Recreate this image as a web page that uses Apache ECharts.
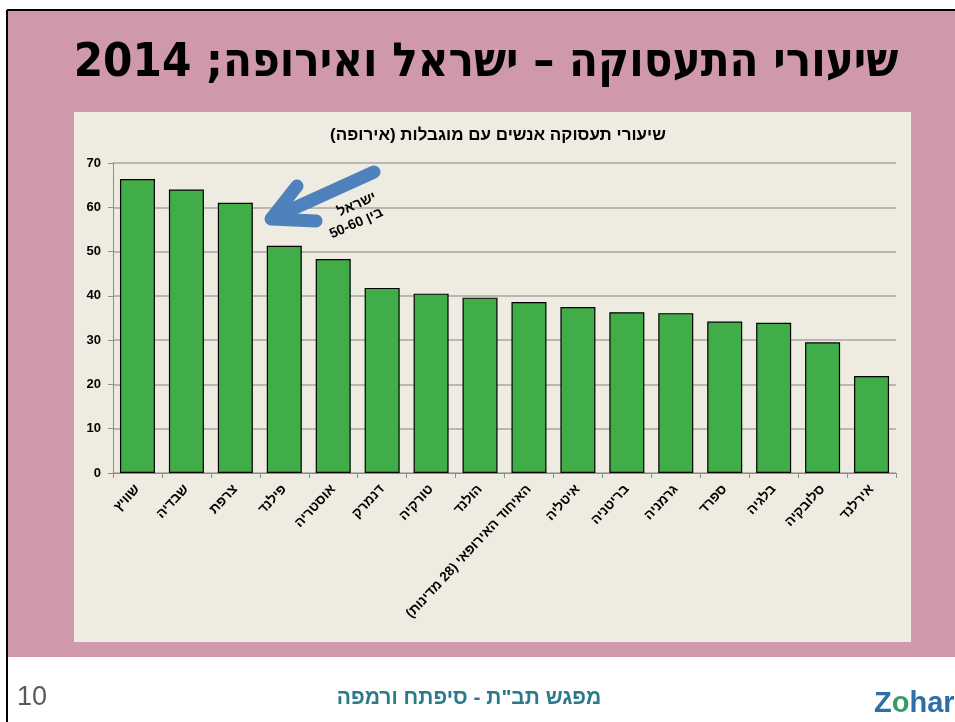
<!DOCTYPE html>
<html>
<head>
<meta charset="utf-8">
<script src="https://cdn.jsdelivr.net/npm/echarts@6/dist/echarts.min.js"></script>
<style>
  html, body { margin: 0; padding: 0; background: #fff; }
  #chart { width: 955px; height: 722px; }
</style>
</head>
<body>
<div id="chart" dir="rtl"></div>
<script>
// מדינות, לפי הסדר בגרף
const categories = [
  'שוויץ', 'שבדיה', 'צרפת', 'פילנד', 'אוסטריה', 'דנמרק', 'טורקיה', 'הולנד',
  'האיחוד האירופאי (28 מדינות)', 'איטליה', 'בריטניה', 'גרמניה', 'ספרד', 'בלגיה',
  'סלובקיה', 'אירלנד'
]
// שיעור תעסוקה (%)
const rates = [66.4, 64.0, 61.0, 51.3, 48.3, 41.8, 40.5, 39.6, 38.6, 37.5, 36.3, 36.1, 34.2, 33.9, 29.5, 21.9]
const yTicks = [0, 10, 20, 30, 40, 50, 60, 70]

const mainTitle = 'שיעורי התעסוקה – ישראל ואירופה; 2014'
const chartTitle = 'שיעורי תעסוקה אנשים עם מוגבלות (אירופה)'
const noteText = 'ישראל\nבין 50-60'
const footerText = 'מפגש תב"ת - סיפתח ורמפה'
const pageNum = '10'

const HEB = '"Liberation Sans", "DejaVu Sans", sans-serif'

const chart = echarts.init(document.getElementById('chart'))

chart.setOption({
  backgroundColor: '#ffffff',
  animation: false,
  title: [{
    text: mainTitle,
    left: 481,
    top: 35,
    textAlign: 'center',
    textStyle: { fontFamily: '"DejaVu Sans Condensed", "DejaVu Sans", sans-serif', fontSize: 47, fontWeight: 'bold', color: '#000' }
  }, {
    text: chartTitle,
    left: 493,
    top: 122,
    textAlign: 'center',
    textStyle: { fontFamily: HEB, fontSize: 17, fontWeight: 'bold', color: '#000' }
  }],
  graphic: [
    // רקע השקף
    { type: 'rect', z: -100, shape: { x: 7, y: 10, width: 948, height: 647 }, style: { fill: '#cf99ab' } },
    { type: 'line', z: -90, shape: { x1: 7, y1: 10, x2: 955, y2: 10 }, style: { stroke: '#000', lineWidth: 2 } },
    { type: 'line', z: -90, shape: { x1: 7, y1: 10, x2: 7, y2: 722 }, style: { stroke: '#000', lineWidth: 2 } },
    { type: 'rect', z: -95, shape: { x: 74, y: 112, width: 837, height: 530 }, style: { fill: '#eeebe0' } },
    // חץ
    { type: 'polyline', z: 50, shape: { points: [[374, 172], [277, 216]] },
      style: { stroke: '#4f81bd', lineWidth: 13, lineCap: 'round', fill: null } },
    { type: 'polyline', z: 50, shape: { points: [[297, 186], [271, 219], [316, 221]] },
      style: { stroke: '#4f81bd', lineWidth: 13, lineCap: 'round', lineJoin: 'round', fill: null } },
    { type: 'text', z: 60, x: 379, y: 204, rotation: 0.42,
      style: { text: noteText, font: 'bold 14px ' + HEB, fill: '#000', align: 'right', verticalAlign: 'middle', lineHeight: 17 } },
    // כותרת תחתונה
    { type: 'text', x: 17, y: 698, style: { text: pageNum, font: '27px "Liberation Sans", sans-serif', fill: '#595959', align: 'left', verticalAlign: 'middle' } },
    { type: 'text', x: 469, y: 698, style: { text: footerText, font: 'bold 21px ' + HEB, fill: '#2b7a8c', align: 'center', verticalAlign: 'middle' } },
    { type: 'text', x: 874, y: 704, style: {
      text: '{z|Z}{o|o}{z|har}', align: 'left', verticalAlign: 'middle',
      rich: {
        z: { font: 'bold 29px "Liberation Sans", sans-serif', fill: '#2f6fa8' },
        o: { font: 'bold 29px "Liberation Sans", sans-serif', fill: '#3a9a6a' }
      }
    } }
  ],
  grid: { left: 113, right: 59, top: 163, bottom: 249 },
  xAxis: {
    type: 'category',
    data: categories,
    axisLine: { lineStyle: { color: '#8c8c8c', width: 1 } },
    axisTick: { show: true, length: 5, alignWithLabel: false, lineStyle: { color: '#8c8c8c' } },
    axisLabel: {
      interval: 0,
      rotate: 47,
      margin: 14,
      fontFamily: HEB,
      fontSize: 13.5,
      fontWeight: 'bold',
      color: '#000'
    }
  },
  yAxis: {
    type: 'value',
    min: yTicks[0],
    max: yTicks[yTicks.length - 1],
    interval: 10,
    axisLine: { show: true, lineStyle: { color: '#8c8c8c', width: 1 } },
    axisTick: { show: true, length: 5, lineStyle: { color: '#8c8c8c' } },
    axisLabel: { margin: 12, fontFamily: HEB, fontSize: 13, fontWeight: 'bold', color: '#000' },
    splitLine: { lineStyle: { color: '#a6a6a6', width: 1.5 } }
  },
  series: [{
    type: 'bar',
    data: rates,
    barWidth: 35,
    itemStyle: { color: '#41ad49', borderColor: '#000', borderWidth: 1.2 }
  }]
})
</script>
</body>
</html>
